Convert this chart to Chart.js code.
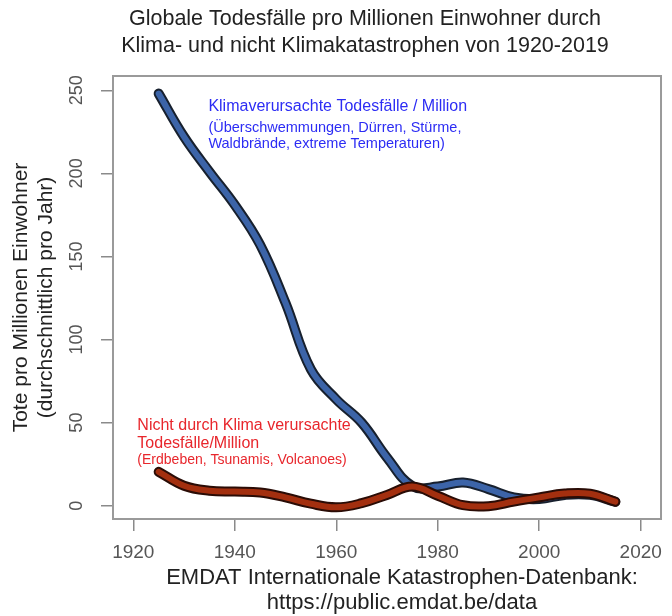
<!DOCTYPE html>
<html>
<head>
<meta charset="utf-8">
<title>Todesfälle pro Million</title>
<script src="https://cdn.jsdelivr.net/npm/chart.js@4.4.1/dist/chart.umd.min.js"></script>
<style>
  html, body { margin: 0; padding: 0; background: #fff; }
  #wrap { width: 672px; height: 616px; }
</style>
</head>
<body>
<div id="wrap"><canvas id="chart" width="672" height="616"></canvas></div>
<script>
// Data (5-year steps)
const years = [1925, 1930, 1935, 1940, 1945, 1950, 1955, 1960, 1965, 1970,
               1975, 1980, 1985, 1990, 1995, 2000, 2005, 2010, 2015];
const climateDeaths = [248, 222, 201, 181, 157, 122, 82, 64, 50, 29,
                       11.8, 11.5, 14, 10, 5, 4, 6.5, 6.5, 2.4];
const otherDeaths = [20.4, 12, 9, 8.5, 8, 5, 1.2, -1, 1.5, 6.5,
                     11.5, 6, 0.3, -0.3, 2.5, 5, 7.3, 7.2, 2.4];
const xTicks = [1920, 1940, 1960, 1980, 2000, 2020];
const yTicks = [0, 50, 100, 150, 200, 250];

const titleLines = [
  "Globale Todesfälle pro Millionen Einwohner durch",
  "Klima- und nicht Klimakatastrophen von 1920-2019"
];
const xLabel = ["EMDAT Internationale Katastrophen-Datenbank:", "https://public.emdat.be/data"];
const yLabel = ["Tote pro Millionen Einwohner", "(durchschnittlich pro Jahr)"];
const climateNote = ["Klimaverursachte Todesfälle / Million",
                     "(Überschwemmungen, Dürren, Stürme,",
                     "Waldbrände, extreme Temperaturen)"];
const otherNote = ["Nicht durch Klima verursachte", "Todesfälle/Million",
                   "(Erdbeben, Tsunamis, Volcanoes)"];

const FONT = "'Liberation Sans', Arial, Helvetica, sans-serif";

function toPoints(vals) {
  return years.map((yr, i) => ({ x: yr, y: vals[i] }));
}

// box around the plot region
const boxPlugin = {
  id: "box",
  beforeDatasetsDraw(chart) {
    const { ctx, chartArea: a } = chart;
    ctx.save();
    ctx.strokeStyle = "#9a9a9a";
    ctx.lineWidth = 2;
    ctx.strokeRect(a.left, a.top, a.right - a.left, a.bottom - a.top);
    ctx.restore();
  }
};

// title, x label and the two notes
const textPlugin = {
  id: "texts",
  afterDraw(chart) {
    const { ctx, scales: { x, y } } = chart;
    ctx.save();
    ctx.textBaseline = "middle";

    ctx.fillStyle = "#222";
    ctx.textAlign = "center";
    ctx.font = "21.5px " + FONT;
    ctx.fillText(titleLines[0], 365, 19);
    ctx.fillText(titleLines[1], 365, 46);
    ctx.font = "22px " + FONT;
    ctx.fillText(xLabel[0], 402, 578);
    ctx.fillText(xLabel[1], 402, 603);

    ctx.textAlign = "left";
    let bx = x.getPixelForValue(1934.8), by = y.getPixelForValue(240);
    ctx.fillStyle = "#2c2cf4";
    ctx.font = "16px " + FONT;
    ctx.fillText(climateNote[0], bx, by);
    ctx.font = "14.5px " + FONT;
    ctx.fillText(climateNote[1], bx, by + 21.5);
    ctx.fillText(climateNote[2], bx, by + 37.5);

    let rx = x.getPixelForValue(1920.8), ry = y.getPixelForValue(48.5);
    ctx.fillStyle = "#e8262c";
    ctx.font = "16px " + FONT;
    ctx.fillText(otherNote[0], rx, ry);
    ctx.fillText(otherNote[1], rx, ry + 18);
    ctx.font = "14px " + FONT;
    ctx.fillText(otherNote[2], rx, ry + 35);
    ctx.restore();
  }
};

const lineStyle = { pointRadius: 0, borderCapStyle: "round", borderJoinStyle: "round",
                    tension: 0.4, fill: false };

new Chart(document.getElementById("chart"), {
  type: "line",
  data: {
    datasets: [
      // first dataset is drawn on top
      { ...lineStyle, data: toPoints(otherDeaths), borderColor: "#a32f0f", borderWidth: 6 },
      { ...lineStyle, data: toPoints(otherDeaths), borderColor: "#2a0c06", borderWidth: 10 },
      { ...lineStyle, data: toPoints(climateDeaths), borderColor: "#3c64a8", borderWidth: 6 },
      { ...lineStyle, data: toPoints(climateDeaths), borderColor: "#17202e", borderWidth: 10 }
    ]
  },
  options: {
    responsive: false,
    devicePixelRatio: 1,
    animation: false,
    layout: { padding: { left: 0, right: 4, top: 76, bottom: 0 } },
    plugins: { legend: { display: false }, tooltip: { enabled: false } },
    scales: {
      x: {
        type: "linear",
        min: 1916,
        max: 2024,
        afterBuildTicks: s => { s.ticks = xTicks.map(v => ({ value: v })); },
        afterFit: s => { s.height = 97; },
        grid: { drawOnChartArea: false, drawTicks: true, tickLength: 12, color: "#8a8a8a", lineWidth: 1.5 },
        border: { display: true, color: "#9a9a9a", width: 2 },
        ticks: { color: "#555", font: { family: FONT, size: 19 }, padding: 10, maxRotation: 0, autoSkip: false,
                 callback: v => String(v) }
      },
      y: {
        type: "linear",
        min: -8,
        max: 258.6,
        afterBuildTicks: s => { s.ticks = yTicks.map(v => ({ value: v })); },
        afterFit: s => { s.width = 113; },
        grid: { drawOnChartArea: false, drawTicks: true, tickLength: 12, color: "#8a8a8a", lineWidth: 1.5 },
        border: { display: true, color: "#9a9a9a", width: 2 },
        ticks: { color: "#555", font: { family: FONT, size: 18 }, padding: 9, minRotation: 90, maxRotation: 90,
                 crossAlign: "center", autoSkip: false },
        title: { display: true, text: yLabel, color: "#222", font: { family: FONT, size: 21, lineHeight: 1.19 },
                 padding: { top: 8.5, bottom: 0 } }
      }
    }
  },
  plugins: [boxPlugin, textPlugin]
});
</script>
</body>
</html>
